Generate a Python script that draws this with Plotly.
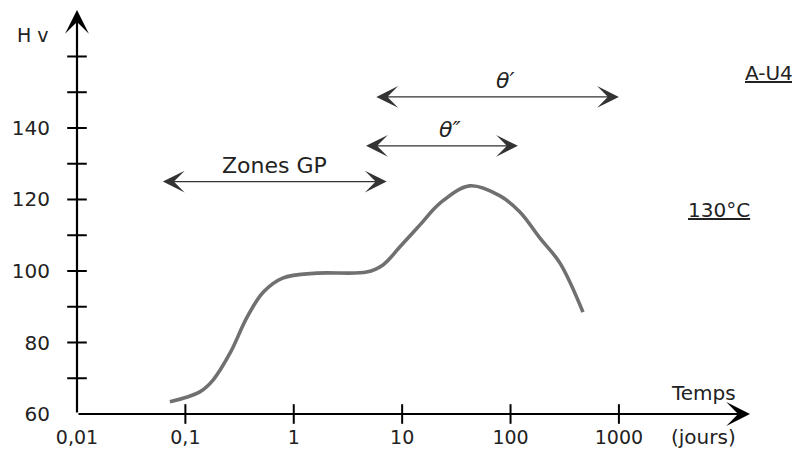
import numpy as np
import plotly.graph_objects as go

# Curve data (time in days, hardness Hv)
temps = [0.072, 0.136, 0.18, 0.258, 0.37, 0.52, 0.79, 1.64, 4.7, 6.65, 9.5,
         14.6, 22.4, 42, 80, 122, 187, 286, 466]
hv = [63.4, 66.2, 69.5, 77, 87, 94, 98, 99.4, 99.7, 101.7, 106.7,
      112.9, 119, 123.8, 121, 116.5, 109.2, 102.2, 88.5]

x_tickvals = [0.01, 0.1, 1, 10, 100, 1000]
x_ticktext = ["0,01", "0,1", "1", "10", "100", "1000"]
y_tickvals = [60, 80, 100, 120, 140]
y_minor = [70, 80, 90, 100, 110, 120, 130, 140, 150, 160]

# Zone arrows: (label, start, end, level)
zones = [
    ("Zones GP", 0.06, 7.2, 125),
    ("θ″", 4.5, 117, 135),
    ("θ′", 5.6, 1000, 148.7),
]
label_shift = {"Zones GP": 0, "θ″": 9, "θ′": 8}

x_min, x_max = 0.01, 16200
y_min, y_max = 60, 173
x_unit_pos = 6000

FONT = "DejaVu Sans"
TXT = "#222"
fig = go.Figure()

fig.add_trace(go.Scatter(
    x=temps, y=hv, mode="lines",
    line=dict(color="#707070", width=3.6, shape="spline", smoothing=1.0),
    hoverinfo="skip", showlegend=False))

# tick crosses on y axis
fig.add_trace(go.Scatter(
    x=[x_min] * len(y_minor), y=y_minor, mode="markers",
    marker=dict(symbol="line-ew", size=14, line=dict(color="black", width=2)),
    cliponaxis=False, showlegend=False, hoverinfo="skip"))
# tick crosses on x axis
fig.add_trace(go.Scatter(
    x=x_tickvals[1:], y=[y_min] * (len(x_tickvals) - 1), mode="markers",
    marker=dict(symbol="line-ns", size=14, line=dict(color="black", width=2)),
    cliponaxis=False, showlegend=False, hoverinfo="skip"))

ann = []
lx0, lx1 = np.log10(x_min), np.log10(x_max)
# axes with arrows
ann.append(dict(x=lx1, y=y_min, ax=lx0, ay=y_min, xref="x", yref="y",
                axref="x", ayref="y", showarrow=True, arrowhead=3,
                arrowsize=1.8, arrowwidth=2.2, arrowcolor="black", text="",
                standoff=0, startstandoff=0))
ann.append(dict(x=lx0, y=y_max, ax=lx0, ay=y_min, xref="x", yref="y",
                axref="x", ayref="y", showarrow=True, arrowhead=3,
                arrowsize=1.8, arrowwidth=2.2, arrowcolor="black", text="",
                standoff=0, startstandoff=0))

for label, a, b, lvl in zones:
    la, lb = np.log10(a), np.log10(b)
    ann.append(dict(x=lb, y=lvl, ax=la, ay=lvl, xref="x", yref="y",
                    axref="x", ayref="y", showarrow=True, arrowhead=3,
                    startarrowhead=3, arrowside="end+start", arrowsize=2.8,
                    startarrowsize=2.8, arrowwidth=1.3, arrowcolor="#333",
                    text="", standoff=0, startstandoff=0))
    italic = label != "Zones GP"
    ann.append(dict(x=(la + lb) / 2, y=lvl, xref="x", yref="y",
                    text=f"<i>{label}</i>" if italic else label,
                    showarrow=False, xanchor="center", yanchor="bottom",
                    yshift=2, xshift=label_shift[label],
                    font=dict(family=FONT, size=22, color=TXT)))

ann += [
    dict(x=-0.065, y=0.938, xref="paper", yref="paper", text="H v",
         showarrow=False, xanchor="center", yanchor="middle",
         font=dict(family=FONT, size=19, color=TXT)),
    dict(x=np.log10(x_unit_pos), y=66, xref="x", yref="y", text="Temps",
         showarrow=False, xanchor="center", yanchor="middle",
         font=dict(family=FONT, size=20, color=TXT)),
    dict(x=np.log10(x_unit_pos), y=y_min, xref="x", yref="y", text="(jours)",
         showarrow=False, yshift=-23, xanchor="center", yanchor="middle",
         font=dict(family=FONT, size=20, color=TXT)),
    dict(x=1.067, y=0.844, xref="paper", yref="paper", text="<u>A-U4</u>",
         showarrow=False, xanchor="right", yanchor="middle",
         font=dict(family=FONT, size=20, color=TXT)),
    dict(x=1.003, y=0.505, xref="paper", yref="paper", text="<u>130°C</u>",
         showarrow=False, xanchor="right", yanchor="middle",
         font=dict(family=FONT, size=20, color=TXT)),
]

# The page body has an 8px default margin; margins compensate for it.
fig.update_layout(
    width=800, height=462,
    margin=dict(l=69, r=58, t=2, b=56, autoexpand=False),
    paper_bgcolor="white", plot_bgcolor="white",
    showlegend=False,
    annotations=ann,
    xaxis=dict(type="log", range=[lx0, lx1], showgrid=False, zeroline=False,
               showline=False, tickvals=x_tickvals, ticktext=x_ticktext,
               ticks="", ticklabelstandoff=10, automargin=False,
               tickfont=dict(family=FONT, size=19, color=TXT)),
    yaxis=dict(range=[y_min, y_max], showgrid=False, zeroline=False,
               showline=False, tickvals=y_tickvals, ticks="",
               ticklabelstandoff=26, automargin=False,
               tickfont=dict(family=FONT, size=20, color=TXT)),
)

fig.write_html("out.html")
